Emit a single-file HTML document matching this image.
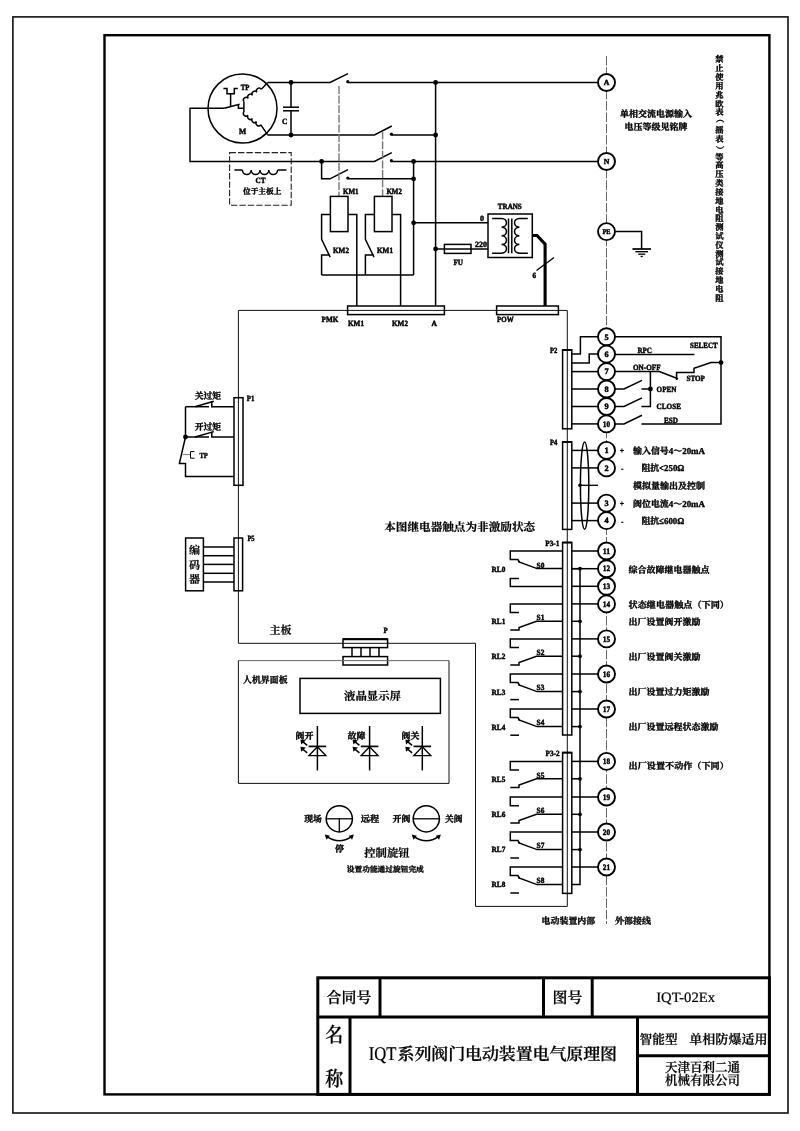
<!DOCTYPE html>
<html lang="zh-CN">
<head>
<meta charset="utf-8">
<title>IQT系列阀门电动装置电气原理图 IQT-02Ex</title>
<style>
html,body{margin:0;padding:0;background:#fff;}
body{width:800px;height:1131px;overflow:hidden;position:relative;font-family:"Liberation Serif","Noto Serif CJK SC",serif;}
svg{position:absolute;left:0;top:0;display:block;filter:grayscale(1);}
svg text{font-family:"Liberation Serif","Noto Serif CJK SC",serif;fill:#000;stroke:#000;stroke-width:0.35px;stroke-linejoin:round;text-rendering:geometricPrecision;}
svg text.t{stroke-width:0.22px;}
svg text.l{stroke-width:0.45px;}
svg text.m{stroke-width:0.2px;}
</style>
</head>
<body>
<svg width="800" height="1131" viewBox="0 0 800 1131">
<rect x="0" y="0" width="800" height="1131" fill="#fff"/>
<rect x="12.90" y="16.90" width="775.10" height="1096.10" stroke="#111" stroke-width="1.6" fill="none" />
<rect x="104.50" y="35.20" width="664.90" height="1059.20" stroke="#000" stroke-width="2.4" fill="none" />
<path d="M606.50 56.00 L606.50 468.00" stroke="#555" stroke-width="0.9" fill="none" stroke-dasharray="9.5 1.8"/>
<path d="M606.50 503.00 L606.50 924.00" stroke="#555" stroke-width="0.9" fill="none" stroke-dasharray="9.5 1.8"/>
<circle cx="242.50" cy="108.50" r="34.5" stroke="#000" stroke-width="1.5" fill="none"/>
<path d="M267.40 82.50 L330.00 82.50 L348.00 73.60" stroke="#000" stroke-width="1.5" fill="none" />
<circle cx="347.80" cy="81.70" r="1.6" fill="#000"/>
<path d="M347.80 82.50 L597.40 82.50" stroke="#000" stroke-width="1.5" fill="none" />
<circle cx="291.00" cy="82.50" r="2.4" fill="#000"/>
<circle cx="291.00" cy="135.00" r="2.4" fill="#000"/>
<path d="M291.00 82.50 L291.00 107.20" stroke="#000" stroke-width="1.5" fill="none" />
<path d="M291.00 110.80 L291.00 135.00" stroke="#000" stroke-width="1.5" fill="none" />
<path d="M283.00 107.20 L299.00 107.20" stroke="#000" stroke-width="1.5" fill="none" />
<path d="M283.00 110.80 L299.00 110.80" stroke="#000" stroke-width="1.5" fill="none" />
<circle cx="435.60" cy="82.50" r="2.4" fill="#000"/>
<circle cx="435.60" cy="135.00" r="2.4" fill="#000"/>
<path d="M267.40 135.00 L374.40 135.00 L391.80 126.00" stroke="#000" stroke-width="1.5" fill="none" />
<circle cx="391.40" cy="134.20" r="1.6" fill="#000"/>
<path d="M391.40 135.00 L435.60 135.00" stroke="#000" stroke-width="1.5" fill="none" />
<path d="M224.20 108.30 L190.00 108.30 L190.00 161.45 L374.40 161.45 L391.80 152.60" stroke="#000" stroke-width="1.5" fill="none" />
<circle cx="391.40" cy="160.65" r="1.6" fill="#000"/>
<path d="M391.40 161.45 L597.40 161.45" stroke="#000" stroke-width="1.5" fill="none" />
<circle cx="321.60" cy="161.45" r="2.4" fill="#000"/>
<circle cx="413.60" cy="161.45" r="2.4" fill="#000"/>
<path d="M224.20 108.30 L239.60 104.30" stroke="#000" stroke-width="1.5" fill="none" />
<path d="M238.40 104.60 L238.40 108.30 L243.90 108.30" stroke="#000" stroke-width="1.5" fill="none" />
<path d="M230.60 106.30 L230.60 93.70" stroke="#000" stroke-width="1.5" fill="none" />
<path d="M223.40 88.60 L227.00 88.60 L227.00 93.70 L234.30 93.70 L234.30 88.60 L237.80 88.60" stroke="#000" stroke-width="1.5" fill="none" />
<path d="M243.90 108.30 L243.90 101.50" stroke="#000" stroke-width="1.5" fill="none" />
<path d="M243.90 101.50 A2.66 2.66 0 0 1 248.25 98.42 A2.66 2.66 0 0 1 252.60 95.35 A2.66 2.66 0 0 1 256.95 92.28 A2.66 2.66 0 0 1 261.30 89.20" stroke="#000" stroke-width="1.5" fill="none"/>
<path d="M261.30 89.20 L267.50 82.80" stroke="#000" stroke-width="1.5" fill="none" />
<path d="M243.90 108.30 L243.90 112.00" stroke="#000" stroke-width="1.5" fill="none" />
<path d="M243.90 112.00 A2.65 2.65 0 0 0 248.12 115.20 A2.65 2.65 0 0 0 252.35 118.40 A2.65 2.65 0 0 0 256.57 121.60 A2.65 2.65 0 0 0 260.80 124.80" stroke="#000" stroke-width="1.5" fill="none"/>
<path d="M260.80 124.80 L267.50 134.60" stroke="#000" stroke-width="1.5" fill="none" />
<rect x="229.60" y="152.60" width="61.60" height="52.60" stroke="#222" stroke-width="1.1" fill="none" stroke-dasharray="6.4 2"/>
<path d="M234.40 170.00 L242.40 170.00" stroke="#000" stroke-width="1.5" fill="none" />
<path d="M277.60 170.00 L286.40 170.00" stroke="#000" stroke-width="1.5" fill="none" />
<path d="M242.40 170.00 A4.40 4.40 0 0 0 251.20 170.00 A4.40 4.40 0 0 0 260.00 170.00 A4.40 4.40 0 0 0 268.80 170.00 A4.40 4.40 0 0 0 277.60 170.00" stroke="#000" stroke-width="1.5" fill="none"/>
<path d="M321.60 161.45 L321.60 178.80 L330.00 178.80 L348.00 169.60" stroke="#000" stroke-width="1.5" fill="none" />
<circle cx="347.80" cy="178.00" r="1.6" fill="#000"/>
<path d="M347.80 178.80 L413.60 178.80" stroke="#000" stroke-width="1.5" fill="none" />
<circle cx="413.60" cy="178.80" r="2.4" fill="#000"/>
<path d="M413.60 161.45 L413.60 275.00" stroke="#000" stroke-width="1.5" fill="none" />
<circle cx="413.60" cy="222.80" r="2.4" fill="#000"/>
<path d="M413.60 222.80 L488.00 222.80" stroke="#000" stroke-width="1.5" fill="none" />
<path d="M435.60 82.50 L435.60 306.00" stroke="#000" stroke-width="1.5" fill="none" />
<circle cx="435.60" cy="249.00" r="2.4" fill="#000"/>
<path d="M339.00 86.00 L339.00 196.40" stroke="#777" stroke-width="1.4" fill="none" stroke-dasharray="8 1.6"/>
<path d="M382.60 131.60 L382.60 196.40" stroke="#777" stroke-width="1.4" fill="none" stroke-dasharray="8 1.6"/>
<rect x="330.40" y="196.40" width="17.60" height="35.20" stroke="#000" stroke-width="1.5" fill="none" />
<path d="M330.40 214.40 L321.60 214.40 L321.60 239.40 L330.20 257.20" stroke="#000" stroke-width="1.5" fill="none" />
<path d="M330.00 255.00 L321.60 255.00 L321.60 275.00" stroke="#000" stroke-width="1.5" fill="none" />
<path d="M348.00 214.40 L356.80 214.40 L356.80 306.00" stroke="#000" stroke-width="1.5" fill="none" />
<rect x="374.40" y="196.40" width="17.60" height="35.20" stroke="#000" stroke-width="1.5" fill="none" />
<path d="M374.40 214.40 L365.40 214.40 L365.40 239.40 L374.00 257.20" stroke="#000" stroke-width="1.5" fill="none" />
<path d="M373.80 255.00 L365.40 255.00 L365.40 275.00" stroke="#000" stroke-width="1.5" fill="none" />
<path d="M392.00 214.40 L400.60 214.40 L400.60 306.00" stroke="#000" stroke-width="1.5" fill="none" />
<path d="M321.60 275.00 L413.60 275.00" stroke="#000" stroke-width="1.5" fill="none" />
<rect x="347.60" y="306.00" width="96.80" height="8.60" stroke="#000" stroke-width="1.5" fill="none" />
<path d="M238.40 643.30 L238.40 310.40 L567.30 310.40 L567.30 906.40 L475.50 906.40 L475.50 643.30 L238.40 643.30" stroke="#111" stroke-width="1.0" fill="none" />
<rect x="496.60" y="306.00" width="61.80" height="8.60" stroke="#000" stroke-width="1.5" fill="none" />
<rect x="444.40" y="244.40" width="26.60" height="9.00" stroke="#000" stroke-width="1.5" fill="none" />
<path d="M435.60 249.00 L488.00 249.00" stroke="#000" stroke-width="1.5" fill="none" />
<rect x="488.00" y="214.00" width="44.30" height="43.50" stroke="#000" stroke-width="1.5" fill="none" />
<path d="M492.20 218.50 L501.60 218.50 C508.08 218.50 508.08 227.18 501.60 227.18 C508.08 227.18 508.08 235.85 501.60 235.85 C508.08 235.85 508.08 244.52 501.60 244.52 C508.08 244.52 508.08 253.20 501.60 253.20 L492.20 253.20" stroke="#000" stroke-width="1.5" fill="none" stroke-linejoin="miter"/>
<path d="M527.80 218.50 L519.40 218.50 C512.92 218.50 512.92 227.18 519.40 227.18 C512.92 227.18 512.92 235.85 519.40 235.85 C512.92 235.85 512.92 244.52 519.40 244.52 C512.92 244.52 512.92 253.20 519.40 253.20 L527.80 253.20" stroke="#000" stroke-width="1.5" fill="none" stroke-linejoin="miter"/>
<path d="M508.50 218.50 L508.50 253.20" stroke="#000" stroke-width="1.5" fill="none" />
<path d="M511.80 218.50 L511.80 253.20" stroke="#000" stroke-width="1.5" fill="none" />
<path d="M532.30 235.50 L537.00 235.50 L545.10 244.20 L545.10 306.00" stroke="#000" stroke-width="3.1" fill="none" stroke-linejoin="miter"/>
<path d="M536.50 270.50 L554.00 257.50" stroke="#000" stroke-width="1.3" fill="none" />
<circle cx="606.50" cy="82.50" r="8.5" stroke="#000" stroke-width="1.9" fill="#fff"/>
<text class="l" x="606.50" y="85.07" font-size="7.8" font-weight="700" text-anchor="middle">A</text>
<circle cx="606.50" cy="161.45" r="8.5" stroke="#000" stroke-width="1.9" fill="#fff"/>
<text class="l" x="606.50" y="164.02" font-size="7.8" font-weight="700" text-anchor="middle">N</text>
<circle cx="606.50" cy="231.60" r="8.5" stroke="#000" stroke-width="1.9" fill="#fff"/>
<text class="l" x="606.50" y="233.91" font-size="7" font-weight="700" text-anchor="middle" textLength="8.20" lengthAdjust="spacingAndGlyphs">PE</text>
<path d="M615.60 231.60 L641.60 231.60 L641.60 249.00" stroke="#000" stroke-width="1.5" fill="none" />
<path d="M632.40 249.00 L651.00 249.00" stroke="#000" stroke-width="1.7" fill="none" />
<path d="M635.40 251.70 L648.00 251.70" stroke="#000" stroke-width="1.4" fill="none" />
<path d="M638.20 254.20 L645.20 254.20" stroke="#000" stroke-width="1.3" fill="none" />
<path d="M640.60 256.50 L642.80 256.50" stroke="#000" stroke-width="1.3" fill="none" />
<rect x="562.60" y="349.80" width="9.20" height="79.00" stroke="#000" stroke-width="1.5" fill="none" />
<path d="M562.60 350.00 L571.80 350.00" stroke="#000" stroke-width="1.8" fill="none" />
<path d="M571.80 354.10 L580.40 354.10 L580.40 336.80 L598.00 336.80" stroke="#000" stroke-width="1.5" fill="none" />
<path d="M571.80 362.90 L589.20 362.90 L589.20 354.10 L598.00 354.10" stroke="#000" stroke-width="1.5" fill="none" />
<path d="M571.80 371.60 L598.00 371.60" stroke="#000" stroke-width="1.5" fill="none" />
<path d="M571.80 389.00 L598.00 389.00" stroke="#000" stroke-width="1.5" fill="none" />
<path d="M571.80 406.50 L598.00 406.50" stroke="#000" stroke-width="1.5" fill="none" />
<path d="M571.80 423.90 L598.00 423.90" stroke="#000" stroke-width="1.5" fill="none" />
<path d="M615.00 336.80 L721.00 336.80 L721.00 423.90 L641.40 423.90" stroke="#000" stroke-width="1.5" fill="none" />
<circle cx="721.00" cy="362.60" r="2.4" fill="#000"/>
<path d="M615.00 354.60 L694.40 354.60" stroke="#000" stroke-width="1.5" fill="none" />
<path d="M615.00 371.60 L659.40 371.60 L678.00 378.80" stroke="#000" stroke-width="1.5" fill="none" />
<path d="M676.60 380.00 L676.60 372.40 L694.00 372.40 L694.00 368.40 L711.00 362.60 L721.00 362.60" stroke="#000" stroke-width="1.5" fill="none" />
<path d="M650.40 371.60 L650.40 406.50 L641.40 406.50" stroke="#000" stroke-width="1.5" fill="none" />
<path d="M641.40 389.00 L650.40 389.00" stroke="#000" stroke-width="1.5" fill="none" />
<circle cx="650.40" cy="389.00" r="2.4" fill="#000"/>
<path d="M615.00 389.00 L624.00 389.00 L642.00 380.40" stroke="#000" stroke-width="1.5" fill="none" />
<path d="M615.00 406.50 L624.00 406.50 L642.00 397.90" stroke="#000" stroke-width="1.5" fill="none" />
<path d="M615.00 423.90 L624.00 423.90 L642.00 415.30" stroke="#000" stroke-width="1.5" fill="none" />
<circle cx="606.50" cy="336.80" r="8.5" stroke="#000" stroke-width="1.9" fill="#fff"/>
<text class="l" x="606.50" y="339.54" font-size="8.3" font-weight="700" text-anchor="middle">5</text>
<circle cx="606.50" cy="354.10" r="8.5" stroke="#000" stroke-width="1.9" fill="#fff"/>
<text class="l" x="606.50" y="356.84" font-size="8.3" font-weight="700" text-anchor="middle">6</text>
<circle cx="606.50" cy="371.60" r="8.5" stroke="#000" stroke-width="1.9" fill="#fff"/>
<text class="l" x="606.50" y="374.34" font-size="8.3" font-weight="700" text-anchor="middle">7</text>
<circle cx="606.50" cy="389.00" r="8.5" stroke="#000" stroke-width="1.9" fill="#fff"/>
<text class="l" x="606.50" y="391.74" font-size="8.3" font-weight="700" text-anchor="middle">8</text>
<circle cx="606.50" cy="406.50" r="8.5" stroke="#000" stroke-width="1.9" fill="#fff"/>
<text class="l" x="606.50" y="409.24" font-size="8.3" font-weight="700" text-anchor="middle">9</text>
<circle cx="606.50" cy="423.90" r="8.5" stroke="#000" stroke-width="1.9" fill="#fff"/>
<text class="l" x="606.50" y="426.64" font-size="8.3" font-weight="700" text-anchor="middle" textLength="7.30" lengthAdjust="spacingAndGlyphs">10</text>
<rect x="562.60" y="441.80" width="9.20" height="87.60" stroke="#000" stroke-width="1.5" fill="none" />
<path d="M562.60 442.00 L571.80 442.00" stroke="#000" stroke-width="1.8" fill="none" />
<path d="M571.80 450.40 L598.00 450.40" stroke="#000" stroke-width="1.5" fill="none" />
<path d="M571.80 467.90 L598.00 467.90" stroke="#000" stroke-width="1.5" fill="none" />
<path d="M571.80 503.10 L598.00 503.10" stroke="#000" stroke-width="1.5" fill="none" />
<path d="M571.80 520.60 L598.00 520.60" stroke="#000" stroke-width="1.5" fill="none" />
<ellipse cx="584.6" cy="485.6" rx="4.2" ry="43.6" stroke="#000" stroke-width="1.5" fill="none"/>
<circle cx="580.00" cy="485.30" r="1.8" fill="#000"/>
<path d="M580.00 485.30 L598.00 485.30" stroke="#000" stroke-width="1.3" fill="none" />
<circle cx="606.50" cy="450.40" r="8.5" stroke="#000" stroke-width="1.9" fill="#fff"/>
<text class="l" x="606.50" y="453.14" font-size="8.3" font-weight="700" text-anchor="middle">1</text>
<circle cx="606.50" cy="467.90" r="8.5" stroke="#000" stroke-width="1.9" fill="#fff"/>
<text class="l" x="606.50" y="470.64" font-size="8.3" font-weight="700" text-anchor="middle">2</text>
<circle cx="606.50" cy="503.10" r="8.5" stroke="#000" stroke-width="1.9" fill="#fff"/>
<text class="l" x="606.50" y="505.84" font-size="8.3" font-weight="700" text-anchor="middle">3</text>
<circle cx="606.50" cy="520.60" r="8.5" stroke="#000" stroke-width="1.9" fill="#fff"/>
<text class="l" x="606.50" y="523.34" font-size="8.3" font-weight="700" text-anchor="middle">4</text>
<rect x="562.60" y="542.40" width="9.20" height="192.60" stroke="#000" stroke-width="1.5" fill="none" />
<path d="M562.60 542.60 L571.80 542.60" stroke="#000" stroke-width="1.8" fill="none" />
<rect x="562.60" y="752.50" width="9.20" height="140.90" stroke="#000" stroke-width="1.5" fill="none" />
<path d="M562.60 752.70 L571.80 752.70" stroke="#000" stroke-width="1.8" fill="none" />
<path d="M562.60 551.00 L510.30 551.00 L510.30 559.60 L518.00 559.60 L519.00 562.00 L537.00 568.60 L562.60 568.60" stroke="#000" stroke-width="1.5" fill="none" />
<circle cx="519.00" cy="561.60" r="1.0" fill="#000"/>
<path d="M562.60 586.50 L510.30 586.50 L510.30 578.40 L519.00 578.40" stroke="#000" stroke-width="1.5" fill="none" />
<path d="M562.60 603.90 L510.30 603.90 L510.30 612.60 L519.00 612.60" stroke="#000" stroke-width="1.5" fill="none" />
<path d="M562.60 621.20 L536.50 621.20 L519.00 627.50 L519.00 629.90 L510.30 629.90" stroke="#000" stroke-width="1.5" fill="none" />
<path d="M562.60 638.90 L510.30 638.90 L510.30 647.60 L519.00 647.60" stroke="#000" stroke-width="1.5" fill="none" />
<path d="M562.60 656.20 L536.50 656.20 L519.00 662.50 L519.00 664.90 L510.30 664.90" stroke="#000" stroke-width="1.5" fill="none" />
<path d="M562.60 674.00 L510.30 674.00 L510.30 682.60 L518.00 682.60 L519.00 685.00 L537.00 691.60 L562.60 691.60" stroke="#000" stroke-width="1.5" fill="none" />
<circle cx="519.00" cy="684.60" r="1.0" fill="#000"/>
<path d="M510.30 699.60 L519.00 699.60" stroke="#000" stroke-width="1.5" fill="none" />
<path d="M562.60 709.00 L510.30 709.00 L510.30 717.60 L518.00 717.60 L519.00 720.00 L537.00 726.60 L562.60 726.60" stroke="#000" stroke-width="1.5" fill="none" />
<circle cx="519.00" cy="719.60" r="1.0" fill="#000"/>
<path d="M510.30 735.20 L519.00 735.20" stroke="#000" stroke-width="1.5" fill="none" />
<path d="M562.60 761.40 L510.30 761.40 L510.30 770.10 L519.00 770.10" stroke="#000" stroke-width="1.5" fill="none" />
<path d="M562.60 778.70 L536.50 778.70 L519.00 785.00 L519.00 787.40 L510.30 787.40" stroke="#000" stroke-width="1.5" fill="none" />
<path d="M562.60 797.00 L510.30 797.00 L510.30 805.70 L519.00 805.70" stroke="#000" stroke-width="1.5" fill="none" />
<path d="M562.60 814.30 L536.50 814.30 L519.00 820.60 L519.00 823.00 L510.30 823.00" stroke="#000" stroke-width="1.5" fill="none" />
<path d="M562.60 832.00 L510.30 832.00 L510.30 840.60 L518.00 840.60 L519.00 843.00 L537.00 849.60 L562.60 849.60" stroke="#000" stroke-width="1.5" fill="none" />
<circle cx="519.00" cy="842.60" r="1.0" fill="#000"/>
<path d="M510.30 858.00 L519.00 858.00" stroke="#000" stroke-width="1.5" fill="none" />
<path d="M562.60 867.00 L510.30 867.00 L510.30 875.60 L518.00 875.60 L519.00 878.00 L537.00 884.60 L562.60 884.60" stroke="#000" stroke-width="1.5" fill="none" />
<circle cx="519.00" cy="877.60" r="1.0" fill="#000"/>
<path d="M510.30 893.00 L519.00 893.00" stroke="#000" stroke-width="1.5" fill="none" />
<path d="M571.80 551.00 L598.00 551.00" stroke="#000" stroke-width="1.5" fill="none" />
<path d="M571.80 568.70 L598.00 568.70" stroke="#000" stroke-width="1.5" fill="none" />
<path d="M571.80 586.30 L598.00 586.30" stroke="#000" stroke-width="1.5" fill="none" />
<path d="M571.80 603.90 L598.00 603.90" stroke="#000" stroke-width="1.5" fill="none" />
<path d="M571.80 638.90 L598.00 638.90" stroke="#000" stroke-width="1.5" fill="none" />
<path d="M571.80 674.00 L598.00 674.00" stroke="#000" stroke-width="1.5" fill="none" />
<path d="M571.80 709.00 L598.00 709.00" stroke="#000" stroke-width="1.5" fill="none" />
<path d="M571.80 761.40 L598.00 761.40" stroke="#000" stroke-width="1.5" fill="none" />
<path d="M571.80 797.00 L598.00 797.00" stroke="#000" stroke-width="1.5" fill="none" />
<path d="M571.80 832.00 L598.00 832.00" stroke="#000" stroke-width="1.5" fill="none" />
<path d="M571.80 867.00 L598.00 867.00" stroke="#000" stroke-width="1.5" fill="none" />
<path d="M571.80 884.60 L580.00 884.60 L580.00 568.70" stroke="#000" stroke-width="1.5" fill="none" />
<path d="M571.80 568.70 L580.00 568.70" stroke="#000" stroke-width="1.5" fill="none" />
<circle cx="580.00" cy="568.70" r="1.9" fill="#000"/>
<path d="M571.80 621.30 L580.00 621.30" stroke="#000" stroke-width="1.5" fill="none" />
<circle cx="580.00" cy="621.30" r="1.9" fill="#000"/>
<path d="M571.80 656.20 L580.00 656.20" stroke="#000" stroke-width="1.5" fill="none" />
<circle cx="580.00" cy="656.20" r="1.9" fill="#000"/>
<path d="M571.80 691.60 L580.00 691.60" stroke="#000" stroke-width="1.5" fill="none" />
<circle cx="580.00" cy="691.60" r="1.9" fill="#000"/>
<path d="M571.80 726.60 L580.00 726.60" stroke="#000" stroke-width="1.5" fill="none" />
<circle cx="580.00" cy="726.60" r="1.9" fill="#000"/>
<path d="M571.80 778.80 L580.00 778.80" stroke="#000" stroke-width="1.5" fill="none" />
<circle cx="580.00" cy="778.80" r="1.9" fill="#000"/>
<path d="M571.80 814.30 L580.00 814.30" stroke="#000" stroke-width="1.5" fill="none" />
<circle cx="580.00" cy="814.30" r="1.9" fill="#000"/>
<path d="M571.80 849.60 L580.00 849.60" stroke="#000" stroke-width="1.5" fill="none" />
<circle cx="580.00" cy="849.60" r="1.9" fill="#000"/>
<circle cx="606.50" cy="551.00" r="8.5" stroke="#000" stroke-width="1.9" fill="#fff"/>
<text class="l" x="606.50" y="553.74" font-size="8.3" font-weight="700" text-anchor="middle" textLength="7.30" lengthAdjust="spacingAndGlyphs">11</text>
<circle cx="606.50" cy="568.70" r="8.5" stroke="#000" stroke-width="1.9" fill="#fff"/>
<text class="l" x="606.50" y="571.44" font-size="8.3" font-weight="700" text-anchor="middle" textLength="7.30" lengthAdjust="spacingAndGlyphs">12</text>
<circle cx="606.50" cy="586.30" r="8.5" stroke="#000" stroke-width="1.9" fill="#fff"/>
<text class="l" x="606.50" y="589.04" font-size="8.3" font-weight="700" text-anchor="middle" textLength="7.30" lengthAdjust="spacingAndGlyphs">13</text>
<circle cx="606.50" cy="603.90" r="8.5" stroke="#000" stroke-width="1.9" fill="#fff"/>
<text class="l" x="606.50" y="606.64" font-size="8.3" font-weight="700" text-anchor="middle" textLength="7.30" lengthAdjust="spacingAndGlyphs">14</text>
<circle cx="606.50" cy="638.90" r="8.5" stroke="#000" stroke-width="1.9" fill="#fff"/>
<text class="l" x="606.50" y="641.64" font-size="8.3" font-weight="700" text-anchor="middle" textLength="7.30" lengthAdjust="spacingAndGlyphs">15</text>
<circle cx="606.50" cy="674.00" r="8.5" stroke="#000" stroke-width="1.9" fill="#fff"/>
<text class="l" x="606.50" y="676.74" font-size="8.3" font-weight="700" text-anchor="middle" textLength="7.30" lengthAdjust="spacingAndGlyphs">16</text>
<circle cx="606.50" cy="709.00" r="8.5" stroke="#000" stroke-width="1.9" fill="#fff"/>
<text class="l" x="606.50" y="711.74" font-size="8.3" font-weight="700" text-anchor="middle" textLength="7.30" lengthAdjust="spacingAndGlyphs">17</text>
<circle cx="606.50" cy="761.40" r="8.5" stroke="#000" stroke-width="1.9" fill="#fff"/>
<text class="l" x="606.50" y="764.14" font-size="8.3" font-weight="700" text-anchor="middle" textLength="7.30" lengthAdjust="spacingAndGlyphs">18</text>
<circle cx="606.50" cy="797.00" r="8.5" stroke="#000" stroke-width="1.9" fill="#fff"/>
<text class="l" x="606.50" y="799.74" font-size="8.3" font-weight="700" text-anchor="middle" textLength="7.30" lengthAdjust="spacingAndGlyphs">19</text>
<circle cx="606.50" cy="832.00" r="8.5" stroke="#000" stroke-width="1.9" fill="#fff"/>
<text class="l" x="606.50" y="834.74" font-size="8.3" font-weight="700" text-anchor="middle" textLength="7.30" lengthAdjust="spacingAndGlyphs">20</text>
<circle cx="606.50" cy="867.00" r="8.5" stroke="#000" stroke-width="1.9" fill="#fff"/>
<text class="l" x="606.50" y="869.74" font-size="8.3" font-weight="700" text-anchor="middle" textLength="7.30" lengthAdjust="spacingAndGlyphs">21</text>
<rect x="234.00" y="397.70" width="9.00" height="87.60" stroke="#000" stroke-width="1.5" fill="none" />
<rect x="234.00" y="538.00" width="8.60" height="52.80" stroke="#000" stroke-width="1.5" fill="none" />
<path d="M185.50 406.70 L209.00 406.70" stroke="#000" stroke-width="1.5" fill="none" />
<path d="M195.00 406.70 L213.80 401.30" stroke="#000" stroke-width="1.5" fill="none" />
<path d="M211.80 401.50 L211.80 406.70 L234.00 406.70" stroke="#000" stroke-width="1.5" fill="none" />
<path d="M185.50 437.00 L209.00 437.00" stroke="#000" stroke-width="1.5" fill="none" />
<path d="M195.00 437.00 L213.80 431.60" stroke="#000" stroke-width="1.5" fill="none" />
<path d="M211.80 431.80 L211.80 437.00 L234.00 437.00" stroke="#000" stroke-width="1.5" fill="none" />
<path d="M185.50 406.70 L185.50 437.00" stroke="#000" stroke-width="1.5" fill="none" />
<circle cx="185.50" cy="437.00" r="2.4" fill="#000"/>
<path d="M185.50 437.00 L179.40 463.30" stroke="#000" stroke-width="1.5" fill="none" />
<path d="M178.80 463.50 L185.50 463.50 L185.50 476.40 L234.00 476.40" stroke="#000" stroke-width="1.5" fill="none" />
<path d="M182.80 454.60 L190.50 454.60" stroke="#555" stroke-width="0.8" fill="none" />
<path d="M194.50 451.60 L190.50 451.60 L190.50 458.20 L194.50 458.20" stroke="#000" stroke-width="1.0" fill="none" />
<rect x="185.60" y="538.00" width="17.80" height="52.80" stroke="#000" stroke-width="1.5" fill="none" />
<path d="M203.40 547.00 L234.00 547.00" stroke="#000" stroke-width="1.5" fill="none" />
<path d="M203.40 555.70 L234.00 555.70" stroke="#000" stroke-width="1.5" fill="none" />
<path d="M203.40 564.40 L234.00 564.40" stroke="#000" stroke-width="1.5" fill="none" />
<path d="M203.40 573.30 L234.00 573.30" stroke="#000" stroke-width="1.5" fill="none" />
<path d="M203.40 582.00 L234.00 582.00" stroke="#000" stroke-width="1.5" fill="none" />
<rect x="343.00" y="639.00" width="44.60" height="8.60" stroke="#000" stroke-width="1.5" fill="none" />
<path d="M343.00 639.20 L387.60 639.20" stroke="#000" stroke-width="2" fill="none" />
<rect x="343.00" y="656.60" width="44.60" height="8.40" stroke="#000" stroke-width="1.5" fill="none" />
<path d="M352.00 647.60 L352.00 656.60" stroke="#000" stroke-width="1.5" fill="none" />
<path d="M361.00 647.60 L361.00 656.60" stroke="#000" stroke-width="1.5" fill="none" />
<path d="M370.00 647.60 L370.00 656.60" stroke="#000" stroke-width="1.5" fill="none" />
<path d="M379.00 647.60 L379.00 656.60" stroke="#000" stroke-width="1.5" fill="none" />
<path d="M238.40 660.60 L449.00 660.60" stroke="#666" stroke-width="1.0" fill="none" />
<path d="M238.40 660.60 L238.40 783.40 L449.00 783.40 L449.00 660.60" stroke="#111" stroke-width="1.0" fill="none" />
<rect x="300.00" y="678.40" width="140.40" height="35.00" stroke="#000" stroke-width="1.5" fill="none" />
<path d="M317.40 726.00 L317.40 770.40" stroke="#000" stroke-width="1.5" fill="none" />
<path d="M308.60 746.40 L326.20 746.40" stroke="#000" stroke-width="1.7" fill="none" />
<path d="M317.40 746.80 L309.00 755.60 L325.80 755.60 L317.40 746.80" stroke="#000" stroke-width="1.4" fill="none" />
<path d="M307.20 745.40 L302.40 741.40" stroke="#000" stroke-width="1.5" fill="none" />
<path d="M300.40 739.40 L305.80 740.20 L301.20 744.40 Z" fill="#000"/>
<path d="M307.20 752.80 L302.40 748.80" stroke="#000" stroke-width="1.5" fill="none" />
<path d="M300.40 746.80 L305.80 747.60 L301.20 751.80 Z" fill="#000"/>
<path d="M369.60 726.00 L369.60 770.40" stroke="#000" stroke-width="1.5" fill="none" />
<path d="M360.80 746.40 L378.40 746.40" stroke="#000" stroke-width="1.7" fill="none" />
<path d="M369.60 746.80 L361.20 755.60 L378.00 755.60 L369.60 746.80" stroke="#000" stroke-width="1.4" fill="none" />
<path d="M359.40 745.40 L354.60 741.40" stroke="#000" stroke-width="1.5" fill="none" />
<path d="M352.60 739.40 L358.00 740.20 L353.40 744.40 Z" fill="#000"/>
<path d="M359.40 752.80 L354.60 748.80" stroke="#000" stroke-width="1.5" fill="none" />
<path d="M352.60 746.80 L358.00 747.60 L353.40 751.80 Z" fill="#000"/>
<path d="M422.30 726.00 L422.30 770.40" stroke="#000" stroke-width="1.5" fill="none" />
<path d="M413.50 746.40 L431.10 746.40" stroke="#000" stroke-width="1.7" fill="none" />
<path d="M422.30 746.80 L413.90 755.60 L430.70 755.60 L422.30 746.80" stroke="#000" stroke-width="1.4" fill="none" />
<path d="M412.10 745.40 L407.30 741.40" stroke="#000" stroke-width="1.5" fill="none" />
<path d="M405.30 739.40 L410.70 740.20 L406.10 744.40 Z" fill="#000"/>
<path d="M412.10 752.80 L407.30 748.80" stroke="#000" stroke-width="1.5" fill="none" />
<path d="M405.30 746.80 L410.70 747.60 L406.10 751.80 Z" fill="#000"/>
<circle cx="339.30" cy="818.80" r="13.1" stroke="#000" stroke-width="1.5" fill="none"/>
<path d="M326.20 818.80 L352.40 818.80" stroke="#000" stroke-width="1.3" fill="none" />
<path d="M339.30 818.80 L339.30 831.90" stroke="#000" stroke-width="1.3" fill="none" />
<path d="M327.10 836.60 Q339.30 845.00 351.50 836.60" stroke="#000" stroke-width="1.4" fill="none"/>
<path d="M324.70 834.60 L329.90 835.80 L326.50 839.80 Z" fill="#000"/>
<path d="M353.90 834.60 L348.70 835.80 L352.10 839.80 Z" fill="#000"/>
<circle cx="426.30" cy="818.80" r="13.1" stroke="#000" stroke-width="1.5" fill="none"/>
<path d="M413.20 818.80 L439.40 818.80" stroke="#000" stroke-width="1.3" fill="none" />
<path d="M414.10 836.60 Q426.30 845.00 438.50 836.60" stroke="#000" stroke-width="1.4" fill="none"/>
<path d="M411.70 834.60 L416.90 835.80 L413.50 839.80 Z" fill="#000"/>
<path d="M440.90 834.60 L435.70 835.80 L439.10 839.80 Z" fill="#000"/>
<rect x="317.80" y="977.80" width="451.60" height="116.60" stroke="#000" stroke-width="3.0" fill="none" />
<path d="M317.80 1017.00 L769.40 1017.00" stroke="#000" stroke-width="3.0" fill="none" />
<path d="M380.00 977.80 L380.00 1017.00" stroke="#000" stroke-width="3.0" fill="none" />
<path d="M543.50 977.80 L543.50 1017.00" stroke="#000" stroke-width="3.0" fill="none" />
<path d="M592.20 977.80 L592.20 1017.00" stroke="#000" stroke-width="3.0" fill="none" />
<path d="M350.00 1017.00 L350.00 1094.20" stroke="#000" stroke-width="3.0" fill="none" />
<path d="M637.50 1017.00 L637.50 1094.20" stroke="#000" stroke-width="3.0" fill="none" />
<path d="M637.50 1055.80 L769.40 1055.80" stroke="#000" stroke-width="3.0" fill="none" />
<text class="l" x="240.80" y="89.74" font-size="8.0" font-weight="700" textLength="8.70" lengthAdjust="spacingAndGlyphs">TP</text>
<text class="l" x="239.10" y="133.64" font-size="8.0" font-weight="700" textLength="7.20" lengthAdjust="spacingAndGlyphs">M</text>
<text class="l" x="282.10" y="123.54" font-size="8.0" font-weight="700" textLength="5.40" lengthAdjust="spacingAndGlyphs">C</text>
<text class="l" x="255.60" y="182.94" font-size="8.0" font-weight="700" textLength="10.00" lengthAdjust="spacingAndGlyphs">CT</text>
<text x="243.00" y="194.17" font-size="7.7" font-weight="700" textLength="38.40" lengthAdjust="spacingAndGlyphs">位于主板上</text>
<text class="l" x="343.00" y="193.94" font-size="8.0" font-weight="700" textLength="15.60" lengthAdjust="spacingAndGlyphs">KM1</text>
<text class="l" x="386.40" y="193.94" font-size="8.0" font-weight="700" textLength="15.60" lengthAdjust="spacingAndGlyphs">KM2</text>
<text class="l" x="333.00" y="253.14" font-size="8.0" font-weight="700" textLength="16.00" lengthAdjust="spacingAndGlyphs">KM2</text>
<text class="l" x="377.00" y="253.14" font-size="8.0" font-weight="700" textLength="16.00" lengthAdjust="spacingAndGlyphs">KM1</text>
<text class="l" x="321.60" y="321.94" font-size="8.0" font-weight="700" textLength="16.80" lengthAdjust="spacingAndGlyphs">PMK</text>
<text class="l" x="348.00" y="326.14" font-size="8.0" font-weight="700" textLength="16.00" lengthAdjust="spacingAndGlyphs">KM1</text>
<text class="l" x="392.00" y="326.14" font-size="8.0" font-weight="700" textLength="16.00" lengthAdjust="spacingAndGlyphs">KM2</text>
<text class="l" x="431.60" y="326.14" font-size="8.0" font-weight="700" textLength="5.40" lengthAdjust="spacingAndGlyphs">A</text>
<text class="l" x="497.00" y="321.94" font-size="8.0" font-weight="700" textLength="16.60" lengthAdjust="spacingAndGlyphs">POW</text>
<text class="l" x="497.80" y="208.74" font-size="8.0" font-weight="700" textLength="24.00" lengthAdjust="spacingAndGlyphs">TRANS</text>
<text class="l" x="480.00" y="221.14" font-size="8.0" font-weight="700" textLength="4.00" lengthAdjust="spacingAndGlyphs">0</text>
<text class="l" x="475.00" y="246.94" font-size="8.0" font-weight="700" textLength="12.00" lengthAdjust="spacingAndGlyphs">220</text>
<text class="l" x="453.40" y="264.54" font-size="8.0" font-weight="700" textLength="9.60" lengthAdjust="spacingAndGlyphs">FU</text>
<text class="l" x="532.40" y="277.94" font-size="8.0" font-weight="700" textLength="3.60" lengthAdjust="spacingAndGlyphs">6</text>
<text x="620.00" y="117.24" font-size="9" font-weight="700" textLength="72.00" lengthAdjust="spacingAndGlyphs">单相交流电源输入</text>
<text x="624.60" y="129.84" font-size="9" font-weight="700" textLength="63.00" lengthAdjust="spacingAndGlyphs">电压等级见铭牌</text>
<text class="l" x="550.00" y="352.74" font-size="8.0" font-weight="700" textLength="7.50" lengthAdjust="spacingAndGlyphs">P2</text>
<text class="l" x="550.00" y="444.54" font-size="8.0" font-weight="700" textLength="7.50" lengthAdjust="spacingAndGlyphs">P4</text>
<text class="l" x="545.20" y="545.54" font-size="8.0" font-weight="700" textLength="14.20" lengthAdjust="spacingAndGlyphs">P3-1</text>
<text class="l" x="545.60" y="755.94" font-size="8.0" font-weight="700" textLength="14.00" lengthAdjust="spacingAndGlyphs">P3-2</text>
<text class="l" x="246.80" y="400.84" font-size="8.0" font-weight="700" textLength="7.70" lengthAdjust="spacingAndGlyphs">P1</text>
<text class="l" x="247.40" y="540.94" font-size="8.0" font-weight="700" textLength="7.20" lengthAdjust="spacingAndGlyphs">P5</text>
<text class="l" x="383.40" y="632.94" font-size="8.0" font-weight="700" textLength="4.20" lengthAdjust="spacingAndGlyphs">P</text>
<text class="l" x="637.40" y="352.54" font-size="8.0" font-weight="700" textLength="14.60" lengthAdjust="spacingAndGlyphs">RPC</text>
<text class="l" x="690.00" y="348.14" font-size="8.0" font-weight="700" textLength="27.60" lengthAdjust="spacingAndGlyphs">SELECT</text>
<text class="l" x="633.00" y="369.94" font-size="8.0" font-weight="700" textLength="27.60" lengthAdjust="spacingAndGlyphs">ON-OFF</text>
<text class="l" x="686.40" y="380.54" font-size="8.0" font-weight="700" textLength="18.60" lengthAdjust="spacingAndGlyphs">STOP</text>
<text class="l" x="656.60" y="391.94" font-size="8.0" font-weight="700" textLength="19.80" lengthAdjust="spacingAndGlyphs">OPEN</text>
<text class="l" x="656.60" y="409.14" font-size="8.0" font-weight="700" textLength="24.40" lengthAdjust="spacingAndGlyphs">CLOSE</text>
<text class="l" x="664.00" y="422.54" font-size="8.0" font-weight="700" textLength="14.00" lengthAdjust="spacingAndGlyphs">ESD</text>
<text x="619.80" y="453.08" font-size="7.5" font-weight="700">+</text>
<text x="621.00" y="471.08" font-size="7.5" font-weight="700">-</text>
<text x="619.80" y="506.08" font-size="7.5" font-weight="700">+</text>
<text x="621.00" y="524.08" font-size="7.5" font-weight="700">-</text>
<text x="633.00" y="454.24" font-size="9" font-weight="700" textLength="72.00" lengthAdjust="spacingAndGlyphs">输入信号4～20mA</text>
<text x="641.40" y="471.24" font-size="9" font-weight="700" textLength="43.00" lengthAdjust="spacingAndGlyphs">阻抗&lt;250Ω</text>
<text x="633.00" y="489.14" font-size="9" font-weight="700" textLength="72.00" lengthAdjust="spacingAndGlyphs">模拟量输出及控制</text>
<text x="633.00" y="507.44" font-size="9" font-weight="700" textLength="72.00" lengthAdjust="spacingAndGlyphs">阀位电流4～20mA</text>
<text x="641.40" y="523.84" font-size="9" font-weight="700" textLength="43.00" lengthAdjust="spacingAndGlyphs">阻抗≤600Ω</text>
<text x="628.60" y="573.04" font-size="9" font-weight="700" textLength="81.00" lengthAdjust="spacingAndGlyphs">综合故障继电器触点</text>
<text x="628.60" y="608.04" font-size="9" font-weight="700" textLength="100.40" lengthAdjust="spacingAndGlyphs">状态继电器触点（下同）</text>
<text x="628.60" y="625.04" font-size="9" font-weight="700" textLength="72.00" lengthAdjust="spacingAndGlyphs">出厂设置阀开激励</text>
<text x="628.60" y="660.04" font-size="9" font-weight="700" textLength="72.00" lengthAdjust="spacingAndGlyphs">出厂设置阀关激励</text>
<text x="628.60" y="695.04" font-size="9" font-weight="700" textLength="81.00" lengthAdjust="spacingAndGlyphs">出厂设置过力矩激励</text>
<text x="628.60" y="730.04" font-size="9" font-weight="700" textLength="90.00" lengthAdjust="spacingAndGlyphs">出厂设置远程状态激励</text>
<text x="628.60" y="768.64" font-size="9" font-weight="700" textLength="100.20" lengthAdjust="spacingAndGlyphs">出厂设置不动作（下同）</text>
<text x="541.60" y="923.64" font-size="9" font-weight="700" textLength="53.60" lengthAdjust="spacingAndGlyphs">电动装置内部</text>
<text x="615.00" y="923.64" font-size="9" font-weight="700" textLength="36.00" lengthAdjust="spacingAndGlyphs">外部接线</text>
<text class="m" x="384.20" y="530.70" font-size="11.4" font-weight="700" textLength="151.00" lengthAdjust="spacingAndGlyphs">本图继电器触点为非激励状态</text>
<text x="194.70" y="399.44" font-size="9" font-weight="700" textLength="26.40" lengthAdjust="spacingAndGlyphs">关过矩</text>
<text x="194.70" y="430.44" font-size="9" font-weight="700" textLength="26.40" lengthAdjust="spacingAndGlyphs">开过矩</text>
<text class="l" x="199.50" y="457.77" font-size="7.8" font-weight="700" textLength="8.30" lengthAdjust="spacingAndGlyphs">TP</text>
<text class="m" x="194.50" y="553.96" font-size="11" font-weight="700" text-anchor="middle">编</text>
<text class="m" x="194.50" y="568.56" font-size="11" font-weight="700" text-anchor="middle">码</text>
<text class="m" x="194.50" y="582.96" font-size="11" font-weight="700" text-anchor="middle">器</text>
<text class="m" x="269.60" y="634.16" font-size="11" font-weight="700" textLength="22.00" lengthAdjust="spacingAndGlyphs">主板</text>
<text x="243.00" y="682.64" font-size="9" font-weight="700" textLength="44.60" lengthAdjust="spacingAndGlyphs">人机界面板</text>
<text class="m" x="344.00" y="699.90" font-size="11.4" font-weight="700" textLength="57.00" lengthAdjust="spacingAndGlyphs">液晶显示屏</text>
<text x="295.60" y="738.64" font-size="9" font-weight="700" textLength="18.00" lengthAdjust="spacingAndGlyphs">阀开</text>
<text x="347.60" y="738.64" font-size="9" font-weight="700" textLength="18.00" lengthAdjust="spacingAndGlyphs">故障</text>
<text x="401.60" y="738.64" font-size="9" font-weight="700" textLength="18.00" lengthAdjust="spacingAndGlyphs">阀关</text>
<text x="304.20" y="822.44" font-size="9" font-weight="700" textLength="17.60" lengthAdjust="spacingAndGlyphs">现场</text>
<text x="360.80" y="822.44" font-size="9" font-weight="700" textLength="18.40" lengthAdjust="spacingAndGlyphs">远程</text>
<text x="392.50" y="822.44" font-size="9" font-weight="700" textLength="18.00" lengthAdjust="spacingAndGlyphs">开阀</text>
<text x="445.00" y="822.44" font-size="9" font-weight="700" textLength="17.60" lengthAdjust="spacingAndGlyphs">关阀</text>
<text x="335.00" y="852.44" font-size="9" font-weight="700">停</text>
<text class="m" x="364.20" y="856.80" font-size="11.4" font-weight="700" textLength="45.40" lengthAdjust="spacingAndGlyphs">控制旋钮</text>
<text x="346.80" y="871.97" font-size="7.7" font-weight="700" textLength="77.00" lengthAdjust="spacingAndGlyphs">设置功能通过旋钮完成</text>
<text class="l" x="491.60" y="571.54" font-size="8.0" font-weight="700" textLength="13.80" lengthAdjust="spacingAndGlyphs">RL0</text>
<text class="l" x="491.60" y="624.44" font-size="8.0" font-weight="700" textLength="13.80" lengthAdjust="spacingAndGlyphs">RL1</text>
<text class="l" x="491.60" y="659.34" font-size="8.0" font-weight="700" textLength="13.80" lengthAdjust="spacingAndGlyphs">RL2</text>
<text class="l" x="491.60" y="694.54" font-size="8.0" font-weight="700" textLength="13.80" lengthAdjust="spacingAndGlyphs">RL3</text>
<text class="l" x="491.60" y="729.54" font-size="8.0" font-weight="700" textLength="13.80" lengthAdjust="spacingAndGlyphs">RL4</text>
<text class="l" x="491.60" y="781.94" font-size="8.0" font-weight="700" textLength="13.80" lengthAdjust="spacingAndGlyphs">RL5</text>
<text class="l" x="491.60" y="817.14" font-size="8.0" font-weight="700" textLength="13.80" lengthAdjust="spacingAndGlyphs">RL6</text>
<text class="l" x="491.60" y="852.14" font-size="8.0" font-weight="700" textLength="13.80" lengthAdjust="spacingAndGlyphs">RL7</text>
<text class="l" x="491.60" y="887.14" font-size="8.0" font-weight="700" textLength="13.80" lengthAdjust="spacingAndGlyphs">RL8</text>
<text class="l" x="536.60" y="567.54" font-size="8.0" font-weight="700" textLength="7.80" lengthAdjust="spacingAndGlyphs">S0</text>
<text class="l" x="536.60" y="619.84" font-size="8.0" font-weight="700" textLength="7.80" lengthAdjust="spacingAndGlyphs">S1</text>
<text class="l" x="536.60" y="654.84" font-size="8.0" font-weight="700" textLength="7.80" lengthAdjust="spacingAndGlyphs">S2</text>
<text class="l" x="536.60" y="690.04" font-size="8.0" font-weight="700" textLength="7.80" lengthAdjust="spacingAndGlyphs">S3</text>
<text class="l" x="536.60" y="725.04" font-size="8.0" font-weight="700" textLength="7.80" lengthAdjust="spacingAndGlyphs">S4</text>
<text class="l" x="536.60" y="777.54" font-size="8.0" font-weight="700" textLength="7.80" lengthAdjust="spacingAndGlyphs">S5</text>
<text class="l" x="536.60" y="812.94" font-size="8.0" font-weight="700" textLength="7.80" lengthAdjust="spacingAndGlyphs">S6</text>
<text class="l" x="536.60" y="847.94" font-size="8.0" font-weight="700" textLength="7.80" lengthAdjust="spacingAndGlyphs">S7</text>
<text class="l" x="536.60" y="882.94" font-size="8.0" font-weight="700" textLength="7.80" lengthAdjust="spacingAndGlyphs">S8</text>
<text class="t" x="326.60" y="1002.58" font-size="15.5" font-weight="600" textLength="44.80" lengthAdjust="spacingAndGlyphs">合同号</text>
<text class="t" x="552.50" y="1002.98" font-size="15.5" font-weight="600" textLength="29.80" lengthAdjust="spacingAndGlyphs">图号</text>
<text class="t" x="656.20" y="1002.22" font-size="14.3" font-weight="400" textLength="58.80" lengthAdjust="spacingAndGlyphs">IQT-02Ex</text>
<text class="t" x="325.20" y="1041.98" font-size="20.5" font-weight="600" textLength="18.00" lengthAdjust="spacingAndGlyphs">名</text>
<text class="t" x="325.20" y="1085.78" font-size="20.5" font-weight="600" textLength="18.00" lengthAdjust="spacingAndGlyphs">称</text>
<text class="t" x="368.80" y="1059.80" font-size="19.4" font-weight="400" textLength="27.60" lengthAdjust="spacingAndGlyphs">IQT</text>
<text class="t" x="397.60" y="1059.52" font-size="17" font-weight="600" textLength="219.40" lengthAdjust="spacing">系列阀门电动装置电气原理图</text>
<text class="t" x="639.60" y="1043.99" font-size="13.3" font-weight="600" textLength="38.00" lengthAdjust="spacingAndGlyphs">智能型</text>
<text class="t" x="689.20" y="1043.99" font-size="13.3" font-weight="600" textLength="78.40" lengthAdjust="spacingAndGlyphs">单相防爆适用</text>
<text class="t" x="665.00" y="1071.59" font-size="13.3" font-weight="600" textLength="75.00" lengthAdjust="spacingAndGlyphs">天津百利二通</text>
<text class="t" x="665.00" y="1084.99" font-size="13.3" font-weight="600" textLength="75.00" lengthAdjust="spacingAndGlyphs">机械有限公司</text>
<text x="719.50" y="62.39" font-size="8.3" font-weight="700" text-anchor="middle">禁</text>
<text x="719.50" y="71.22" font-size="8.3" font-weight="700" text-anchor="middle">止</text>
<text x="719.50" y="80.05" font-size="8.3" font-weight="700" text-anchor="middle">使</text>
<text x="719.50" y="88.88" font-size="8.3" font-weight="700" text-anchor="middle">用</text>
<text x="719.50" y="97.71" font-size="8.3" font-weight="700" text-anchor="middle">兆</text>
<text x="719.50" y="106.54" font-size="8.3" font-weight="700" text-anchor="middle">欧</text>
<text x="719.50" y="115.37" font-size="8.3" font-weight="700" text-anchor="middle">表</text>
<text x="719.5" y="118.71" font-size="8.3" font-weight="700" text-anchor="middle" transform="rotate(90 719.5 118.71)" dy="3.0">（</text>
<text x="719.50" y="133.03" font-size="8.3" font-weight="700" text-anchor="middle">摇</text>
<text x="719.50" y="141.86" font-size="8.3" font-weight="700" text-anchor="middle">表</text>
<text x="719.5" y="150.00" font-size="8.3" font-weight="700" text-anchor="middle" transform="rotate(90 719.5 150.00)" dy="3.0">）</text>
<text x="719.50" y="159.52" font-size="8.3" font-weight="700" text-anchor="middle">等</text>
<text x="719.50" y="168.35" font-size="8.3" font-weight="700" text-anchor="middle">高</text>
<text x="719.50" y="177.18" font-size="8.3" font-weight="700" text-anchor="middle">压</text>
<text x="719.50" y="186.01" font-size="8.3" font-weight="700" text-anchor="middle">类</text>
<text x="719.50" y="194.84" font-size="8.3" font-weight="700" text-anchor="middle">接</text>
<text x="719.50" y="203.67" font-size="8.3" font-weight="700" text-anchor="middle">地</text>
<text x="719.50" y="212.50" font-size="8.3" font-weight="700" text-anchor="middle">电</text>
<text x="719.50" y="221.33" font-size="8.3" font-weight="700" text-anchor="middle">阻</text>
<text x="719.50" y="230.16" font-size="8.3" font-weight="700" text-anchor="middle">测</text>
<text x="719.50" y="238.99" font-size="8.3" font-weight="700" text-anchor="middle">试</text>
<text x="719.50" y="247.82" font-size="8.3" font-weight="700" text-anchor="middle">仪</text>
<text x="719.50" y="256.65" font-size="8.3" font-weight="700" text-anchor="middle">测</text>
<text x="719.50" y="265.48" font-size="8.3" font-weight="700" text-anchor="middle">试</text>
<text x="719.50" y="274.31" font-size="8.3" font-weight="700" text-anchor="middle">接</text>
<text x="719.50" y="283.14" font-size="8.3" font-weight="700" text-anchor="middle">地</text>
<text x="719.50" y="291.97" font-size="8.3" font-weight="700" text-anchor="middle">电</text>
<text x="719.50" y="300.80" font-size="8.3" font-weight="700" text-anchor="middle">阻</text>
</svg>
</body>
</html>
